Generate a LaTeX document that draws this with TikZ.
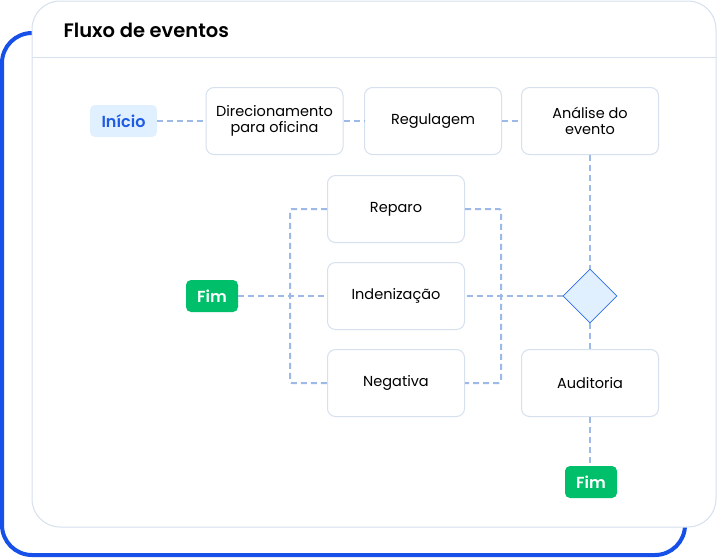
\documentclass[tikz,border=0pt]{standalone}
\usepackage{fontspec}
\setmainfont{Poppins}[BoldFont={Poppins SemiBold}]
\usepackage{xcolor}
\usetikzlibrary{shapes.geometric,calc}
\definecolor{outlineblue}{HTML}{1650E8}
\definecolor{cardline}{HTML}{D6E0EE}
\definecolor{flowline}{HTML}{9DB9E8}
\definecolor{startbg}{HTML}{E1F0FE}
\definecolor{startfg}{HTML}{1E5BE6}
\definecolor{endbg}{HTML}{00BF6A}
\definecolor{decisionline}{HTML}{2F6DE8}
\tikzset{>=latex}
\tikzset{
  stepbox/.style={draw=cardline,line width=1pt,fill=white,rounded corners=8pt,minimum width=137pt,minimum height=67pt,align=center,inner sep=2pt,font=\fontsize{14.5}{16}\selectfont},
  startbox/.style={fill=startbg,text=startfg,rounded corners=5pt,minimum width=67pt,minimum height=32pt,inner sep=0pt,font=\fontsize{16}{18}\selectfont\bfseries},
  endbox/.style={fill=endbg,text=white,rounded corners=5pt,minimum width=52pt,minimum height=32pt,inner sep=0pt,font=\fontsize{16}{18}\selectfont\bfseries},
  decision/.style={diamond,draw=decisionline,fill=startbg,line width=0.8pt,minimum width=54pt,minimum height=54pt,inner sep=0pt},
  flow/.style={draw=flowline,line width=2pt,dash pattern=on 6pt off 4pt,rounded corners=2pt}
}

\begin{document}
\begin{tikzpicture}[x=1pt,y=-1pt]
  \useasboundingbox (0,0) rectangle (718,558);
  % Frame
  \draw[outlineblue,line width=4pt,rounded corners=30pt] (2,33) rectangle (685,555);
  \draw[cardline,fill=white,line width=1pt,rounded corners=28pt] (32,1) rectangle (716,527);
  \draw[cardline,line width=1pt] (32,57) -- (716,57);
  \node[anchor=west,font=\fontsize{19.5}{22}\selectfont\bfseries] (title) at (60,30) {Fluxo de eventos};

  % Nodes
  \node[startbox] (inicio) at (123.5,121) {Início};
  \node[stepbox] (direc) at (274.5,121) {Direcionamento\\para oficina};
  \node[stepbox] (regul) at (433,121) {Regulagem};
  \node[stepbox] (analise) at (590,121) {Análise do\\evento};
  \node[stepbox] (reparo) at (396,209) {Reparo};
  \node[stepbox] (indeniz) at (396,296) {Indenização};
  \node[stepbox] (negativa) at (396,383) {Negativa};
  \node[endbox] (fimesq) at (212,296) {Fim};
  \node[decision] (decisao) at (590,296) {};
  \node[stepbox] (auditoria) at (590,383) {Auditoria};
  \node[endbox] (fimbaixo) at (591,482) {Fim};

  % Lines
  \draw[flow] (inicio.east) -- (inicio.east -| direc.west);
  \draw[flow] (direc) -- (regul);
  \draw[flow] (regul) -- (analise);
  \draw[flow] (analise.south) -- (decisao.north);
  \draw[flow] (decisao.west) -- (indeniz.east);
  \draw[flow] (fimesq.east) -- (fimesq.east -| indeniz.west);
  \draw[flow] (reparo.east) -- ++(36,0) |- (negativa.east);
  \draw[flow] (reparo.west) -- ++(-37,0) |- (negativa.west);
  \draw[flow] (decisao.south) -- (auditoria.north);
  \draw[flow] (auditoria.south) -- (auditoria.south |- fimbaixo.north);
\end{tikzpicture}
\end{document}
